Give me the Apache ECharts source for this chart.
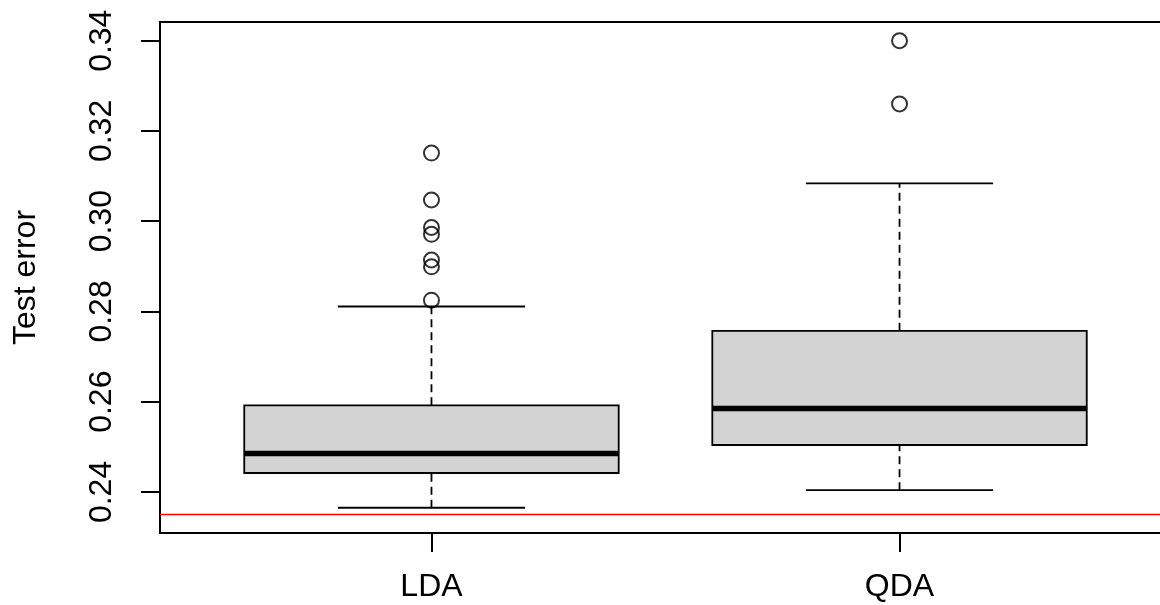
<!DOCTYPE html>
<html>
<head>
<meta charset="utf-8">
<title>Test error: LDA vs QDA</title>
<script src="https://cdn.jsdelivr.net/npm/echarts@6/dist/echarts.min.js"></script>
<style>
  html, body { margin: 0; padding: 0; background: #fff; }
  #chart { width: 1160px; height: 605px; }
</style>
</head>
<body>
<div id="chart"></div>
<script>
// Methods compared
const categories = ['LDA', 'QDA'];
// Five-number summaries: [lower whisker, Q1, median, Q3, upper whisker]
const ldaStats = [0.2365, 0.2442, 0.2485, 0.2592, 0.2811];
const qdaStats = [0.2404, 0.2504, 0.2585, 0.2757, 0.3084];
// Points beyond the whiskers
const ldaOutliers = [0.3151, 0.3047, 0.2986, 0.2971, 0.2914, 0.2899, 0.2825];
const qdaOutliers = [0.3400, 0.3260];
// Horizontal reference level
const referenceError = 0.235;
// Y tick labels
const yTicks = [0.24, 0.26, 0.28, 0.30, 0.32, 0.34];

const FONT = '"Liberation Sans", Arial, Helvetica, sans-serif';
const X_MIN = 0.42, X_MAX = 2.58;
const boxStats = [ldaStats, qdaStats];
const boxData = boxStats.map((s, i) => [i + 1].concat(s));
const outlierData = [];
ldaOutliers.forEach(v => outlierData.push([1, v]));
qdaOutliers.forEach(v => outlierData.push([2, v]));

function renderBox(params, api) {
  const x = api.value(0);
  const lo = api.value(1), q1 = api.value(2), med = api.value(3), q3 = api.value(4), hi = api.value(5);
  const halfBox = api.size([0.8, 0])[0] / 2;
  const halfCap = api.size([0.4, 0])[0] / 2;
  const pLo = api.coord([x, lo]), pQ1 = api.coord([x, q1]), pMed = api.coord([x, med]);
  const pQ3 = api.coord([x, q3]), pHi = api.coord([x, hi]);
  const cx = pMed[0];
  const lineStyle = { stroke: '#000', lineWidth: 1.8 };
  const dashStyle = { stroke: '#000', lineWidth: 1.8, lineDash: [8, 5] };
  return {
    type: 'group',
    children: [
      { type: 'line', shape: { x1: cx, y1: pQ3[1], x2: cx, y2: pHi[1] }, style: dashStyle },
      { type: 'line', shape: { x1: cx, y1: pLo[1], x2: cx, y2: pQ1[1] }, style: dashStyle },
      { type: 'line', shape: { x1: cx - halfCap, y1: pHi[1], x2: cx + halfCap, y2: pHi[1] }, style: lineStyle },
      { type: 'line', shape: { x1: cx - halfCap, y1: pLo[1], x2: cx + halfCap, y2: pLo[1] }, style: lineStyle },
      { type: 'rect', shape: { x: cx - halfBox, y: pQ3[1], width: halfBox * 2, height: pQ1[1] - pQ3[1] },
        style: { fill: '#D3D3D3', stroke: '#000', lineWidth: 1.8 } },
      { type: 'line', shape: { x1: cx - halfBox, y1: pMed[1], x2: cx + halfBox, y2: pMed[1] },
        style: { stroke: '#000', lineWidth: 5.5 } }
    ]
  };
}

// Full-width horizontal line at the reference level
function renderReference(params, api) {
  const cs = params.coordSys;
  const y = api.coord([X_MIN, api.value(0)])[1];
  return {
    type: 'line',
    shape: { x1: cs.x, y1: y, x2: cs.x + cs.width, y2: y },
    style: { stroke: '#FF0000', lineWidth: 1.6 }
  };
}

const chart = echarts.init(document.getElementById('chart'), null, { renderer: 'canvas' });
chart.setOption({
  backgroundColor: '#fff',
  animation: false,
  grid: {
    show: true,
    left: 160, top: 22, bottom: 72, width: 1011,
    outerBoundsMode: 'none',
    containLabel: false,
    borderColor: '#000', borderWidth: 2,
    backgroundColor: 'transparent'
  },
  xAxis: {
    type: 'value',
    min: X_MIN, max: X_MAX,
    axisLine: { show: false },
    splitLine: { show: false },
    axisTick: { show: true, length: 19, customValues: [1, 2], lineStyle: { color: '#000', width: 2 } },
    axisLabel: {
      customValues: [1, 2],
      formatter: v => categories[Math.round(v) - 1],
      color: '#000', fontFamily: FONT, fontSize: 32, margin: 38
    }
  },
  yAxis: {
    type: 'value',
    min: 0.2309, max: 0.34415,
    name: 'Test error',
    nameLocation: 'middle',
    nameRotate: 90,
    nameGap: 118,
    nameTextStyle: { color: '#000', fontFamily: FONT, fontSize: 32 },
    axisLine: { show: false },
    splitLine: { show: false },
    axisTick: { show: true, length: 19, customValues: yTicks, lineStyle: { color: '#000', width: 2 } },
    axisLabel: {
      customValues: yTicks,
      rotate: 90,
      formatter: v => v.toFixed(2),
      color: '#000', fontFamily: FONT, fontSize: 32, margin: 42
    }
  },
  series: [
    {
      type: 'custom',
      renderItem: renderBox,
      data: boxData,
      encode: { x: 0, y: [1, 2, 3, 4, 5] },
      z: 2
    },
    {
      type: 'scatter',
      data: outlierData,
      symbol: 'circle',
      symbolSize: 15,
      itemStyle: { color: 'rgba(0,0,0,0)', borderColor: '#000', borderWidth: 2 },
      z: 3
    },
    {
      type: 'custom',
      renderItem: renderReference,
      data: [[referenceError]],
      encode: { y: 0 },
      clip: false,
      z: 4
    }
  ]
});
</script>
</body>
</html>
